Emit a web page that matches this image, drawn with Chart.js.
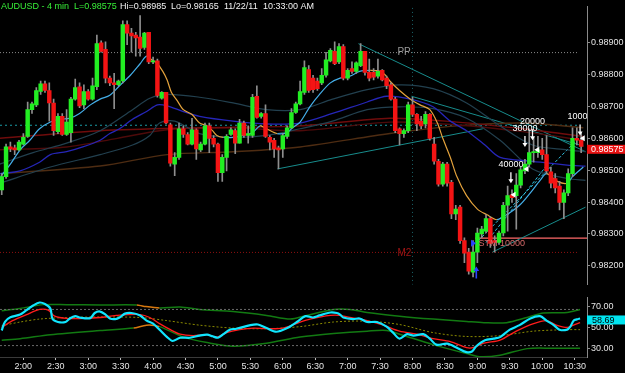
<!DOCTYPE html>
<html>
<head>
<meta charset="utf-8">
<title>AUDUSD - 4 min</title>
<script src="https://cdn.jsdelivr.net/npm/chart.js@4.4.1/dist/chart.umd.min.js"></script>
<style>
  html, body { margin: 0; padding: 0; background: #000; overflow: hidden; }
  #wrap { position: relative; width: 625px; height: 373px; background: #000; }
  canvas { position: absolute; left: 0; }
  #priceChart { top: 0; }
  #oscChart { top: 291px; }
</style>
</head>
<body>
<div id="wrap">
  <canvas id="priceChart" width="625" height="291"></canvas>
  <canvas id="oscChart" width="625" height="82"></canvas>
</div>
<script>
/* AUDUSD 4 min chart: candles + moving averages on top, oscillator panel below.
   Times are minutes after midnight, prices as quoted. */

const firstBar = '1:40';
const barMinutes = 4;
const timeLabels = ['2:00', '2:30', '3:00', '3:30', '4:00', '4:30', '5:00', '5:30', '6:00',
  '6:30', '7:00', '7:30', '8:00', '8:30', '9:00', '9:30', '10:00', '10:30'];
const priceTicks = [0.982, 0.983, 0.984, 0.985, 0.986, 0.987, 0.988, 0.989];
const oscTicks = [30, 50, 70];

// --- candles (one per 4 minutes) ---
const candleOpen = [
  0.98438, 0.98480, 0.98573, 0.98570, 0.98564, 0.98582, 0.98606, 0.98690, 0.98705, 0.98747,
  0.98771, 0.98750, 0.98711, 0.98621, 0.98669, 0.98612, 0.98618, 0.98723, 0.98762, 0.98705,
  0.98747, 0.98723, 0.98762, 0.98900, 0.98879, 0.98789, 0.98774, 0.98768, 0.98780, 0.98957,
  0.98930, 0.98924, 0.98918, 0.98885, 0.98933, 0.98840, 0.98843, 0.98726, 0.98744, 0.98642,
  0.98519, 0.98540, 0.98630, 0.98612, 0.98582, 0.98627, 0.98564, 0.98582, 0.98639, 0.98600,
  0.98582, 0.98492, 0.98540, 0.98612, 0.98624, 0.98585, 0.98648, 0.98609, 0.98609, 0.98732,
  0.98669, 0.98678, 0.98603, 0.98594, 0.98570, 0.98567, 0.98606, 0.98633, 0.98681, 0.98708,
  0.98744, 0.98816, 0.98789, 0.98780, 0.98774, 0.98798, 0.98843, 0.98873, 0.98840, 0.98888,
  0.98789, 0.98819, 0.98810, 0.98828, 0.98873, 0.98807, 0.98807, 0.98795, 0.98813, 0.98789,
  0.98768, 0.98723, 0.98630, 0.98615, 0.98624, 0.98705, 0.98675, 0.98654, 0.98645, 0.98675,
  0.98582, 0.98528, 0.98456, 0.98519, 0.98462, 0.98363, 0.98384, 0.98279, 0.98243, 0.98180,
  0.98243, 0.98300, 0.98309, 0.98348, 0.98279, 0.98273, 0.98303, 0.98390, 0.98423, 0.98420,
  0.98453, 0.98498, 0.98519, 0.98555, 0.98555, 0.98564, 0.98549, 0.98495, 0.98474, 0.98450,
  0.98399, 0.98429, 0.98489, 0.98600, 0.98594
];
const candleHigh = [
  0.98489, 0.98582, 0.98588, 0.98579, 0.98594, 0.98615, 0.98714, 0.98714, 0.98759, 0.98780,
  0.98780, 0.98774, 0.98723, 0.98678, 0.98678, 0.98690, 0.98729, 0.98786, 0.98774, 0.98768,
  0.98753, 0.98789, 0.98924, 0.98906, 0.98903, 0.98795, 0.98804, 0.98783, 0.98969, 0.98969,
  0.98945, 0.98933, 0.98985, 0.98933, 0.98933, 0.98855, 0.98849, 0.98747, 0.98744, 0.98648,
  0.98555, 0.98648, 0.98639, 0.98618, 0.98663, 0.98630, 0.98588, 0.98648, 0.98648, 0.98609,
  0.98585, 0.98549, 0.98612, 0.98633, 0.98630, 0.98660, 0.98654, 0.98639, 0.98738, 0.98765,
  0.98681, 0.98705, 0.98609, 0.98600, 0.98576, 0.98615, 0.98639, 0.98693, 0.98714, 0.98780,
  0.98843, 0.98828, 0.98798, 0.98789, 0.98819, 0.98870, 0.98882, 0.98903, 0.98897, 0.98894,
  0.98819, 0.98840, 0.98840, 0.98897, 0.98873, 0.98849, 0.98819, 0.98849, 0.98816, 0.98795,
  0.98774, 0.98729, 0.98633, 0.98630, 0.98714, 0.98729, 0.98678, 0.98669, 0.98684, 0.98678,
  0.98603, 0.98534, 0.98525, 0.98525, 0.98468, 0.98390, 0.98390, 0.98288, 0.98255, 0.98279,
  0.98318, 0.98324, 0.98360, 0.98354, 0.98294, 0.98309, 0.98399, 0.98450, 0.98438, 0.98489,
  0.98510, 0.98534, 0.98630, 0.98603, 0.98606, 0.98600, 0.98609, 0.98510, 0.98489, 0.98465,
  0.98438, 0.98504, 0.98633, 0.98633, 0.98618
];
const candleLow = [
  0.98423, 0.98474, 0.98558, 0.98549, 0.98561, 0.98579, 0.98603, 0.98678, 0.98699, 0.98738,
  0.98744, 0.98654, 0.98609, 0.98615, 0.98609, 0.98609, 0.98588, 0.98720, 0.98696, 0.98693,
  0.98720, 0.98720, 0.98753, 0.98870, 0.98774, 0.98765, 0.98693, 0.98765, 0.98774, 0.98894,
  0.98870, 0.98858, 0.98858, 0.98879, 0.98834, 0.98834, 0.98729, 0.98723, 0.98645, 0.98513,
  0.98483, 0.98534, 0.98603, 0.98579, 0.98579, 0.98534, 0.98558, 0.98579, 0.98555, 0.98573,
  0.98465, 0.98465, 0.98498, 0.98609, 0.98552, 0.98585, 0.98603, 0.98585, 0.98603, 0.98663,
  0.98663, 0.98603, 0.98564, 0.98540, 0.98504, 0.98540, 0.98600, 0.98630, 0.98678, 0.98705,
  0.98738, 0.98744, 0.98744, 0.98750, 0.98768, 0.98792, 0.98840, 0.98831, 0.98834, 0.98783,
  0.98783, 0.98804, 0.98804, 0.98825, 0.98798, 0.98780, 0.98783, 0.98789, 0.98780, 0.98756,
  0.98720, 0.98618, 0.98579, 0.98603, 0.98618, 0.98669, 0.98624, 0.98630, 0.98633, 0.98594,
  0.98519, 0.98450, 0.98450, 0.98450, 0.98348, 0.98345, 0.98270, 0.98210, 0.98174, 0.98165,
  0.98210, 0.98288, 0.98303, 0.98258, 0.98243, 0.98267, 0.98294, 0.98309, 0.98399, 0.98315,
  0.98444, 0.98489, 0.98510, 0.98525, 0.98540, 0.98534, 0.98489, 0.98444, 0.98429, 0.98375,
  0.98348, 0.98420, 0.98480, 0.98579, 0.98555
];
const candleClose = [
  0.98480, 0.98573, 0.98567, 0.98564, 0.98588, 0.98603, 0.98690, 0.98708, 0.98750, 0.98771,
  0.98750, 0.98711, 0.98624, 0.98669, 0.98612, 0.98651, 0.98723, 0.98759, 0.98702, 0.98747,
  0.98723, 0.98765, 0.98897, 0.98873, 0.98789, 0.98774, 0.98768, 0.98780, 0.98957, 0.98930,
  0.98921, 0.98915, 0.98882, 0.98930, 0.98840, 0.98843, 0.98735, 0.98744, 0.98648, 0.98522,
  0.98540, 0.98630, 0.98612, 0.98582, 0.98627, 0.98567, 0.98582, 0.98639, 0.98600, 0.98582,
  0.98492, 0.98540, 0.98606, 0.98627, 0.98585, 0.98648, 0.98609, 0.98615, 0.98729, 0.98666,
  0.98678, 0.98606, 0.98588, 0.98567, 0.98564, 0.98609, 0.98633, 0.98681, 0.98708, 0.98747,
  0.98822, 0.98750, 0.98753, 0.98756, 0.98798, 0.98846, 0.98876, 0.98834, 0.98888, 0.98789,
  0.98813, 0.98810, 0.98837, 0.98873, 0.98807, 0.98789, 0.98792, 0.98810, 0.98783, 0.98765,
  0.98723, 0.98624, 0.98615, 0.98624, 0.98705, 0.98675, 0.98645, 0.98639, 0.98675, 0.98600,
  0.98528, 0.98456, 0.98519, 0.98459, 0.98363, 0.98378, 0.98279, 0.98240, 0.98183, 0.98243,
  0.98303, 0.98315, 0.98348, 0.98270, 0.98273, 0.98303, 0.98390, 0.98420, 0.98414, 0.98453,
  0.98501, 0.98519, 0.98555, 0.98558, 0.98564, 0.98549, 0.98498, 0.98459, 0.98444, 0.98399,
  0.98429, 0.98489, 0.98600, 0.98594, 0.98575
];

// --- moving averages on the price panel (time, price) ---
const fastMaTime = [99, 108, 117, 126, 135, 145, 154, 163, 172, 182, 191, 200, 209, 219, 228, 234, 239, 244, 249, 253,
  257, 262, 268, 276, 283, 290, 295, 299, 305, 314, 327, 332, 339, 345, 355, 364, 369, 376, 385, 394,
  404, 413, 422, 431, 441, 450, 455, 459, 468, 478, 487, 496, 503, 508, 515, 521, 530, 540, 549, 558,
  567, 579, 589, 598, 604, 614, 623, 628, 638];
const fastMa = [0.98480, 0.98519, 0.98564, 0.98594, 0.98630, 0.98651, 0.98660, 0.98663, 0.98678, 0.98705,
  0.98723, 0.98735, 0.98765, 0.98798, 0.98834, 0.98858, 0.98846, 0.98834, 0.98810, 0.98783,
  0.98744, 0.98720, 0.98690, 0.98675, 0.98648, 0.98639, 0.98624, 0.98609, 0.98603, 0.98603,
  0.98612, 0.98618, 0.98639, 0.98630, 0.98615, 0.98618, 0.98633, 0.98651, 0.98699, 0.98738,
  0.98774, 0.98789, 0.98795, 0.98810, 0.98813, 0.98810, 0.98798, 0.98780, 0.98750, 0.98723,
  0.98705, 0.98690, 0.98648, 0.98600, 0.98540, 0.98480, 0.98420, 0.98378, 0.98360, 0.98345,
  0.98360, 0.98390, 0.98429, 0.98468, 0.98489, 0.98465, 0.98459, 0.98480, 0.98510];

const blueMaTime = [98, 117, 135, 145, 160, 175, 191, 200, 209, 221, 234, 244, 253, 268, 283, 314, 345, 376, 406, 438,
  456, 478, 499, 515, 530, 547, 561, 591, 623, 640];
const blueMa = [0.98489, 0.98498, 0.98525, 0.98549, 0.98558, 0.98573, 0.98594, 0.98615, 0.98630, 0.98660,
  0.98684, 0.98705, 0.98702, 0.98684, 0.98669, 0.98654, 0.98645, 0.98648, 0.98678, 0.98714,
  0.98732, 0.98723, 0.98699, 0.98654, 0.98624, 0.98579, 0.98540, 0.98528, 0.98516, 0.98513];

const bandTime = [98, 129, 160, 191, 221, 237, 253, 283, 314, 345, 376, 406, 438, 468, 499, 530, 561, 591, 623, 640];
const upperBand = [0.98519, 0.98555, 0.98585, 0.98624, 0.98690, 0.98726, 0.98738, 0.98729, 0.98711, 0.98690,
  0.98690, 0.98723, 0.98753, 0.98768, 0.98756, 0.98711, 0.98639, 0.98579, 0.98564, 0.98558];
const lowerBandTime = [98, 145, 191, 221, 237, 246, 260, 283, 314, 345, 376, 406, 438, 468, 499, 530, 561, 591, 623, 640];
const lowerBand = [0.98459, 0.98510, 0.98549, 0.98579, 0.98609, 0.98648, 0.98654, 0.98615, 0.98603, 0.98609,
  0.98630, 0.98654, 0.98690, 0.98699, 0.98693, 0.98663, 0.98594, 0.98504, 0.98474, 0.98468];

const slowTime = [98, 191, 283, 376, 459, 521, 582, 638];
const slowRedA = [0.98600, 0.98624, 0.98633, 0.98639, 0.98663, 0.98651, 0.98630, 0.98606];
const slowRedBTime = [98, 160, 207, 253, 314, 376, 459, 521, 582, 638];
const slowRedB = [0.98564, 0.98573, 0.98600, 0.98627, 0.98633, 0.98624, 0.98651, 0.98642, 0.98621, 0.98594];
const brownMaTime = [98, 191, 253, 314, 376, 459, 521, 582, 638];
const brownMa = [0.98489, 0.98513, 0.98549, 0.98558, 0.98573, 0.98615, 0.98639, 0.98648, 0.98633];

// --- drawn trend lines [start, end] ---
const trendLines = [
  { t: [430, 640], p: [0.98897, 0.98558] },
  { t: [479, 638], p: [0.98732, 0.98576] },
  { t: [355, 545], p: [0.98504, 0.98630] },
  { t: [554, 640], p: [0.98243, 0.98384] }
];
const channelLines = [
  { t: [541, 630], p: [0.98279, 0.98588] },
  { t: [548, 603], p: [0.98273, 0.98510] }
];

// --- levels and trade marks ---
const pivotPP = 0.98869;
const pivotM2 = 0.98242;
const dottedLevel = 0.98641;
const levelEnd = 633;
const sessionLine = 480;
const stopPrice = 0.98287;
const stopStart = 538;
const stopLabel = 'STM 10000';
const stopLabelTime = 541;
const stopLabelPrice = 0.98270;
const entryMarkTime = 536;
const entryMarkPrice = 0.98271;
const buyArrowTime = 539;
const buyArrowPrice = 0.98198;
const tradeTimes = [571, 584, 591, 635];
const tradeLabels = ['40000', '30000', '20000', '10000'];
const tradeLabelPrices = [0.98518, 0.98632, 0.98654, 0.98669];
const tradeArrowPrices = [0.98459, 0.98573, 0.98594, 0.98609];
const exitTimes = [573, 585, 595, 637];
const exitPrices = [0.98423, 0.98504, 0.98564, 0.98600];

// --- oscillator panel ---
const rsiTime = [100, 103, 108, 117, 123, 129, 135, 140, 145, 147, 152, 159, 163, 168, 172, 182, 186, 191, 196, 200,
  205, 209, 214, 220, 228, 234, 240, 246, 253, 258, 265, 274, 283, 290, 295, 300, 305, 311, 317, 330,
  337, 345, 354, 364, 373, 381, 388, 394, 404, 410, 413, 416, 425, 431, 438, 447, 456, 462, 468, 475,
  481, 490, 496, 502, 512, 521, 530, 535, 539, 547, 555, 561, 570, 579, 589, 598, 604, 610, 616, 623,
  626, 629, 632, 635];
const rsi = [47.2, 55.5, 59.8, 62.4, 66.7, 71.0, 73.9, 72.5, 68.2, 58.1, 55.3, 55.3, 58.7, 60.9, 59.6, 59.0, 63.9, 65.3, 62.4, 58.7,
  58.1, 59.6, 63.3, 63.9, 61.6, 56.6, 53.8, 48.0, 40.9, 37.2, 40.3, 40.3, 42.3, 43.2, 41.7, 40.3, 43.7, 48.0, 48.9, 52.3,
  52.9, 49.5, 46.0, 49.5, 55.3, 60.9, 59.6, 61.6, 64.4, 63.9, 62.4, 59.6, 58.1, 58.7, 55.3, 55.3, 50.9, 45.2, 39.4, 43.7,
  42.3, 43.7, 39.4, 33.7, 34.6, 30.8, 26.5, 27.1, 32.2, 38.0, 39.4, 40.9, 48.0, 52.3, 58.7, 60.9, 56.6, 52.9, 48.0, 48.0,
  50.9, 56.6, 57.8, 58.69];
const signalTime = [100, 110, 123, 135, 143, 149, 160, 175, 191, 206, 228, 237, 246, 256, 265, 277, 290, 299, 308, 320,
  333, 345, 360, 376, 385, 404, 413, 422, 438, 453, 468, 484, 499, 515, 530, 536, 546, 561, 576, 592,
  604, 613, 623, 629, 635];
const signal = [50.1, 56.6, 62.4, 67.3, 66.7, 60.9, 58.7, 58.7, 59.6, 61.6, 62.4, 59.6, 53.8, 48.0, 43.7, 42.3, 43.2, 40.9, 45.2, 48.0,
  49.5, 48.9, 49.5, 55.3, 58.1, 61.6, 61.6, 59.6, 56.6, 52.3, 46.6, 43.7, 39.4, 36.6, 30.8, 30.8, 35.1, 38.0, 46.6, 53.8,
  56.6, 52.3, 50.1, 52.3, 54.7];
const oscMidTime = [100, 117, 135, 160, 191, 228, 253, 283, 314, 345, 376, 407, 438, 468, 499, 530, 561, 592, 623, 635];
const oscMid = [51.8, 55.3, 58.1, 59.6, 60.1, 59.6, 56.6, 52.3, 49.5, 48.9, 50.9, 55.3, 56.1, 52.9, 45.2, 41.5, 42.3, 46.6, 48.0, 48.0];
const oscUpperTime = [100, 117, 138, 160, 191, 225, 231, 246, 265, 283, 314, 345, 367, 382, 407, 422, 438, 468, 499, 530,
  546, 567, 586, 601, 623, 635];
const oscUpper = [66.1, 68.2, 71.9, 71.9, 71.6, 71.6, 70.4, 68.7, 69.6, 67.3, 65.3, 61.6, 58.1, 61.6, 67.3, 67.3, 64.4, 60.9, 58.1, 55.8,
  54.7, 54.7, 59.6, 63.9, 64.4, 67.3];
const oscLowerTime = [100, 117, 145, 191, 222, 234, 246, 268, 290, 314, 345, 376, 407, 438, 456, 468, 499, 530, 542, 561,
  586, 610, 635];
const oscLower = [38.0, 39.4, 43.2, 47.2, 49.5, 52.3, 50.9, 40.9, 35.7, 32.2, 35.1, 40.9, 44.3, 46.6, 47.2, 43.7, 33.7, 25.1, 22.2, 23.6,
  29.9, 30.3, 30.3];
const oscLevels = [67.3, 32.8];

// ------------------------------------------------------------------
const FONT = '"Liberation Sans", Arial, sans-serif';
const X_MIN = 98.4, X_MAX = 641.4;
const toMin = s => { const [h, m] = s.split(':').map(Number); return h * 60 + m; };
const candleTimes = candleOpen.map((_, i) => toMin(firstBar) + i * barMinutes);
const pts = (xs, ys) => xs.map((x, i) => ({ x, y: ys[i] }));
const lastClose = candleClose[candleClose.length - 1];
const lastRsi = rsi[rsi.length - 1];

function line(xs, ys, color, width, extra = {}) {
  return { type: 'line', data: pts(xs, ys), borderColor: color, borderWidth: width,
    pointRadius: 0, tension: 0.3, fill: false, order: 5, ...extra };
}
function straight(t, p, color, width, dash) {
  return line(t, p, color, width, { tension: 0, borderDash: dash || [] });
}

/* --- price panel --- */
const priceOverlay = {
  id: 'priceOverlay',
  afterDatasetsDraw(chart) {
    const { ctx, chartArea: a } = chart;
    const sx = chart.scales.x, sy = chart.scales.y;
    ctx.save();
    ctx.beginPath();
    ctx.rect(a.left, a.top, a.right - a.left, a.bottom - a.top);
    ctx.clip();

    // pivot labels
    ctx.font = `10px ${FONT}`;
    ctx.textBaseline = 'alphabetic';
    ctx.fillStyle = '#9a9a9a';
    ctx.fillText('PP', sx.getPixelForValue(466), sy.getPixelForValue(pivotPP) + 2.5);
    ctx.fillStyle = '#a01414';
    ctx.fillText('M2', sx.getPixelForValue(466), sy.getPixelForValue(pivotM2) + 3.5);

    // stop label
    ctx.font = `9px ${FONT}`;
    ctx.textBaseline = 'middle';
    ctx.fillStyle = '#d86a6a';
    ctx.fillText(stopLabel, sx.getPixelForValue(stopLabelTime), sy.getPixelForValue(stopLabelPrice));

    // entry marker and buy arrow
    const ex = sx.getPixelForValue(entryMarkTime), ey = sy.getPixelForValue(entryMarkPrice);
    ctx.fillStyle = '#2a44ff';
    ctx.beginPath(); ctx.moveTo(ex - 2, ey - 3.5); ctx.lineTo(ex + 3, ey); ctx.lineTo(ex - 2, ey + 3.5); ctx.fill();
    const bx = sx.getPixelForValue(buyArrowTime), by = sy.getPixelForValue(buyArrowPrice);
    ctx.strokeStyle = '#2a44ff'; ctx.lineWidth = 1.6;
    ctx.beginPath(); ctx.moveTo(bx, by + 3); ctx.lineTo(bx, by + 12); ctx.stroke();
    ctx.beginPath(); ctx.moveTo(bx - 2.8, by + 4.5); ctx.lineTo(bx, by); ctx.lineTo(bx + 2.8, by + 4.5); ctx.fill();

    // trade labels and arrows
    ctx.fillStyle = '#ffffff';
    ctx.strokeStyle = '#ffffff';
    ctx.textAlign = 'center';
    tradeTimes.forEach((t, i) => {
      const px = sx.getPixelForValue(t);
      ctx.fillText(tradeLabels[i], px, sy.getPixelForValue(tradeLabelPrices[i]));
      const tip = sy.getPixelForValue(tradeArrowPrices[i]);
      ctx.lineWidth = 1.3;
      ctx.beginPath(); ctx.moveTo(px, tip - 11); ctx.lineTo(px, tip - 3); ctx.stroke();
      ctx.beginPath(); ctx.moveTo(px - 2.5, tip - 4); ctx.lineTo(px, tip); ctx.lineTo(px + 2.5, tip - 4); ctx.fill();
    });
    exitTimes.forEach((t, i) => {
      const px = sx.getPixelForValue(t), py = sy.getPixelForValue(exitPrices[i]);
      ctx.beginPath(); ctx.moveTo(px - 2.5, py); ctx.lineTo(px + 2.5, py - 3); ctx.lineTo(px + 2.5, py + 3); ctx.fill();
    });
    ctx.restore();
  },
  afterDraw(chart) {
    const { ctx } = chart;
    const sy = chart.scales.y;
    ctx.save();
    // last price box
    const py = sy.getPixelForValue(lastClose);
    ctx.fillStyle = '#e81212';
    ctx.fillRect(587, py - 1.5, 38, 9);
    ctx.fillStyle = '#ffffff';
    ctx.font = `9px ${FONT}`;
    ctx.textBaseline = 'middle';
    ctx.fillText(lastClose.toFixed(5), 591, py + 3.2);
    // header
    ctx.textBaseline = 'alphabetic';
    ctx.fillStyle = '#38f038';
    ctx.fillText('AUDUSD - 4 min  L=' + lastClose.toFixed(5), 1, 9);
    ctx.fillStyle = '#f2f2f2';
    ctx.fillText('Hi=0.98985', 120, 9);
    ctx.fillText('Lo=0.98165', 171, 9);
    ctx.fillText('11/22/11', 224, 9);
    ctx.fillText('10:33:00 AM', 263, 9);
    ctx.restore();
  }
};

const isUp = candleOpen.map((o, i) => candleClose[i] >= o);

new Chart(document.getElementById('priceChart'), {
  type: 'bar',
  data: {
    datasets: [
      { type: 'bar', data: candleTimes.map((t, i) => ({ x: t, y: [candleOpen[i], candleClose[i]] })),
        backgroundColor: isUp.map(u => u ? '#22ee22' : '#f41414'),
        barThickness: 3.8, grouped: false, minBarLength: 1, order: 1 },
      { type: 'bar', data: candleTimes.map((t, i) => ({ x: t, y: [candleLow[i], candleHigh[i]] })),
        backgroundColor: '#8e8e8e', barThickness: 1, grouped: false, order: 2 },
      line(fastMaTime, fastMa, '#44aee8', 1.2, { order: 3,
        segment: { borderColor: c => c.p1.parsed.y >= c.p0.parsed.y ? '#44aee8' : '#e3a23c' } }),
      line(blueMaTime, blueMa, '#2626b8', 1.3),
      line(bandTime, upperBand, '#22404f', 1.2),
      line(lowerBandTime, lowerBand, '#22404f', 1.2),
      line(slowTime, slowRedA, '#700c0c', 1.4),
      line(slowRedBTime, slowRedB, '#4e0a0a', 1.4),
      line(brownMaTime, brownMa, '#4e2c12', 1.4),
      ...trendLines.map(l => straight(l.t, l.p, '#178c8c', 1)),
      ...channelLines.map(l => straight(l.t, l.p, '#30c4e4', 1, [3, 2])),
      straight([X_MIN, levelEnd], [pivotPP, pivotPP], '#8a8a8a', 1, [1, 2]),
      straight([X_MIN, levelEnd], [pivotM2, pivotM2], '#8e1010', 1, [1, 2]),
      straight([X_MIN, levelEnd], [dottedLevel, dottedLevel], '#1a9aa4', 1, [2, 3]),
      straight([stopStart, X_MAX], [stopPrice, stopPrice], '#ff6a6a', 1.2),
      straight([sessionLine, sessionLine], [0.9814, 0.9902], '#1a666c', 1, [1, 3])
    ]
  },
  options: {
    responsive: false,
    animation: false,
    devicePixelRatio: 1,
    events: [],
    layout: { padding: 0 },
    plugins: { legend: { display: false }, tooltip: { enabled: false } },
    scales: {
      x: { type: 'linear', min: X_MIN, max: X_MAX, offset: false, display: false },
      y: {
        position: 'right', min: 0.98141, max: 0.99014,
        afterBuildTicks: s => { s.ticks = priceTicks.map(v => ({ value: v })); },
        afterFit: s => { s.width = 38; },
        ticks: { color: '#e4e4e4', font: { family: FONT, size: 9 }, padding: 1,
          callback: v => v.toFixed(5) },
        grid: { drawOnChartArea: false, drawTicks: true, tickLength: 3, color: '#8a8a8a' },
        border: { display: true, color: '#8a8a8a' }
      }
    }
  },
  plugins: [priceOverlay]
});

/* --- oscillator panel --- */
const oscOverlay = {
  id: 'oscOverlay',
  afterDraw(chart) {
    const { ctx } = chart;
    const py = chart.scales.y.getPixelForValue(lastRsi);
    ctx.save();
    ctx.fillStyle = '#00e4f0';
    ctx.fillRect(587, py - 3, 38, 9);
    ctx.fillStyle = '#000000';
    ctx.font = `9px ${FONT}`;
    ctx.textBaseline = 'middle';
    ctx.fillText(lastRsi.toFixed(2), 592, py + 1.7);
    ctx.restore();
  }
};

const bandColor = c => (c.p0.parsed.x >= 222 && c.p1.parsed.x <= 246) ? '#d8780f' : '#127a12';

new Chart(document.getElementById('oscChart'), {
  type: 'line',
  data: {
    datasets: [
      ...oscLevels.map(v => straight([X_MIN, levelEnd], [v, v], '#6a6a6a', 1, [2, 2])),
      line(oscUpperTime, oscUpper, '#127a12', 1.5, { segment: { borderColor: bandColor } }),
      line(oscLowerTime, oscLower, '#127a12', 1.5, { segment: { borderColor: bandColor } }),
      line(oscMidTime, oscMid, '#8a8a00', 1, { borderDash: [2, 2] }),
      line(signalTime, signal, '#ff1c1c', 1.3, { order: 2 }),
      line(rsiTime, rsi, '#10e6ff', 2.2, { order: 1 })
    ]
  },
  options: {
    responsive: false,
    animation: false,
    devicePixelRatio: 1,
    events: [],
    layout: { padding: 0 },
    plugins: { legend: { display: false }, tooltip: { enabled: false } },
    scales: {
      x: {
        type: 'linear', min: X_MIN, max: X_MAX, offset: false,
        afterBuildTicks: s => { s.ticks = timeLabels.map(l => ({ value: toMin(l) })); },
        afterFit: s => { s.height = 16; },
        ticks: { color: '#e4e4e4', font: { family: FONT, size: 9 }, padding: 1, autoSkip: false, maxRotation: 0,
          callback: (v, i) => timeLabels[i] },
        grid: { drawOnChartArea: false, drawTicks: true, tickLength: 3, color: '#bcbcbc' },
        border: { display: true, color: '#3a3a3a' }
      },
      y: {
        position: 'right', min: 21.9, max: 78.8,
        afterBuildTicks: s => { s.ticks = oscTicks.map(v => ({ value: v })); },
        afterFit: s => { s.width = 38; },
        ticks: { color: '#e4e4e4', font: { family: FONT, size: 9 }, padding: 1,
          callback: v => v.toFixed(2) },
        grid: { drawOnChartArea: false, drawTicks: true, tickLength: 3, color: '#8a8a8a' },
        border: { display: true, color: '#8a8a8a' }
      }
    }
  },
  plugins: [oscOverlay]
});
</script>
</body>
</html>
